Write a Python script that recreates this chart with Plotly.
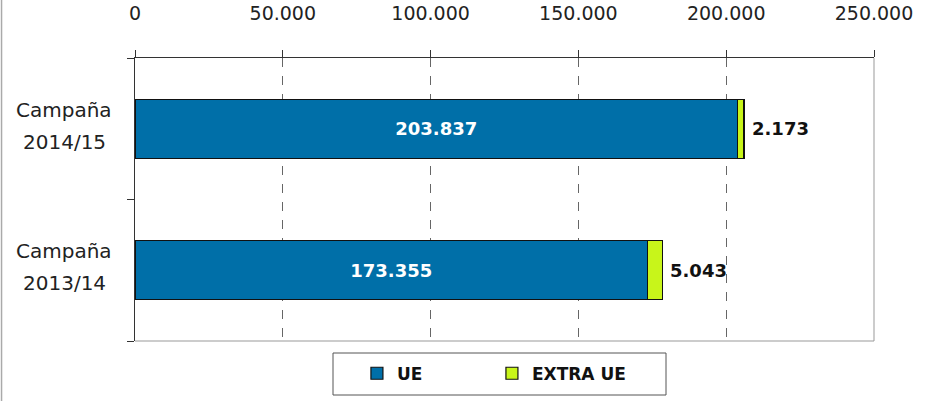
import plotly.graph_objects as go

categories = ["Campaña 2013/14", "Campaña 2014/15"]
cat_line1 = ["Campaña", "Campaña"]
cat_line2 = ["2013/14", "2014/15"]
ue = [173355, 203837]
extra_ue = [5043, 2173]
tick_vals = [0, 50000, 100000, 150000, 200000, 250000]

BLUE = "#006FA8"
GREEN = "#C8F51A"
FONT = "DejaVu Sans"

fig = go.Figure()
fig.add_trace(go.Bar(
    y=categories, x=ue, orientation="h", name="UE",
    marker=dict(color=BLUE, line=dict(color="#111111", width=1.2)),
    texttemplate="%{x:,.0f}", textposition="inside", insidetextanchor="middle",
    textfont=dict(family=FONT, size=18, color="white", weight="bold"),
    hoverinfo="skip",
))
fig.add_trace(go.Bar(
    y=categories, x=extra_ue, orientation="h", name="EXTRA UE",
    marker=dict(color=GREEN, line=dict(color="#111111", width=1.2)),
    textposition="none", hoverinfo="skip",
))

annotations = []
for c, l1, l2 in zip(categories, cat_line1, cat_line2):
    annotations.append(dict(x=-0.096, xref="paper", y=c, yref="y", text=l1,
                            showarrow=False, xanchor="center", yanchor="middle",
                            yshift=19, font=dict(family=FONT, size=20, color="#222222")))
    annotations.append(dict(x=-0.096, xref="paper", y=c, yref="y", text=l2,
                            showarrow=False, xanchor="center", yanchor="middle",
                            yshift=-13, font=dict(family=FONT, size=20, color="#222222")))
for c, u, e in zip(categories, ue, extra_ue):
    annotations.append(dict(x=u + e, xref="x", y=c, yref="y",
                            text=f"{e:,}".replace(",", "."),
                            showarrow=False, xanchor="left", yanchor="middle",
                            xshift=6, font=dict(family=FONT, size=18, color="#111111", weight="bold")))

shapes = [
    dict(type="line", xref="paper", yref="paper", x0=0, x1=1, y0=0, y1=0,
         line=dict(color="#999999", width=1), layer="above"),
    dict(type="line", xref="paper", yref="paper", x0=1, x1=1, y0=0, y1=1,
         line=dict(color="#999999", width=1), layer="above"),
    dict(type="line", xref="paper", yref="paper", x0=-0.1806, x1=-0.1806, y0=-0.25, y1=1.25,
         line=dict(color="#AAAAAA", width=1.5), layer="above"),
    dict(type="rect", xref="paper", yref="paper",
         x0=(333 - 135) / 739, x1=(666 - 135) / 739,
         y0=-(395 - 341) / 283, y1=-(353 - 341) / 283,
         line=dict(color="#555555", width=1), fillcolor="rgba(0,0,0,0)", layer="above"),
]

fig.update_layout(
    width=925, height=401, autosize=False,
    margin=dict(l=135, r=51, t=58, b=60, autoexpand=False),
    paper_bgcolor="white", plot_bgcolor="white",
    barmode="stack", bargap=0.583,
    separators=",.",
    font=dict(family=FONT, color="#222222"),
    showlegend=True,
    legend=dict(orientation="h", x=0.483, xanchor="center", y=-0.052, yanchor="top",
                borderwidth=0, bgcolor="rgba(0,0,0,0)",
                font=dict(family=FONT, size=17, color="#111111", weight="bold"),
                entrywidth=90, traceorder="normal"),
    annotations=annotations,
    shapes=shapes,
    xaxis=dict(side="top", range=[0, 250000], tickvals=tick_vals, tickformat=",.0f",
               ticks="outside", ticklen=7, tickcolor="#333333", tickwidth=1,
               showline=True, linecolor="#333333", linewidth=1,
               showgrid=True, gridcolor="#666666", griddash="dash", gridwidth=1,
               zeroline=False, tickfont=dict(family=FONT, size=19, color="#222222"),
               ticklabelstandoff=22, fixedrange=True, automargin=False),
    yaxis=dict(categoryorder="array", categoryarray=categories, range=[-0.5, 1.5],
               ticks="outside", tickson="boundaries", ticklen=7, tickcolor="#333333",
               showline=True, linecolor="#333333", linewidth=1,
               showticklabels=False, showgrid=False, zeroline=False, fixedrange=True,
               automargin=False),
)

fig.write_html("out.html", config={"displayModeBar": False},
               post_script="document.body.style.margin='0';document.body.style.overflow='hidden';")
